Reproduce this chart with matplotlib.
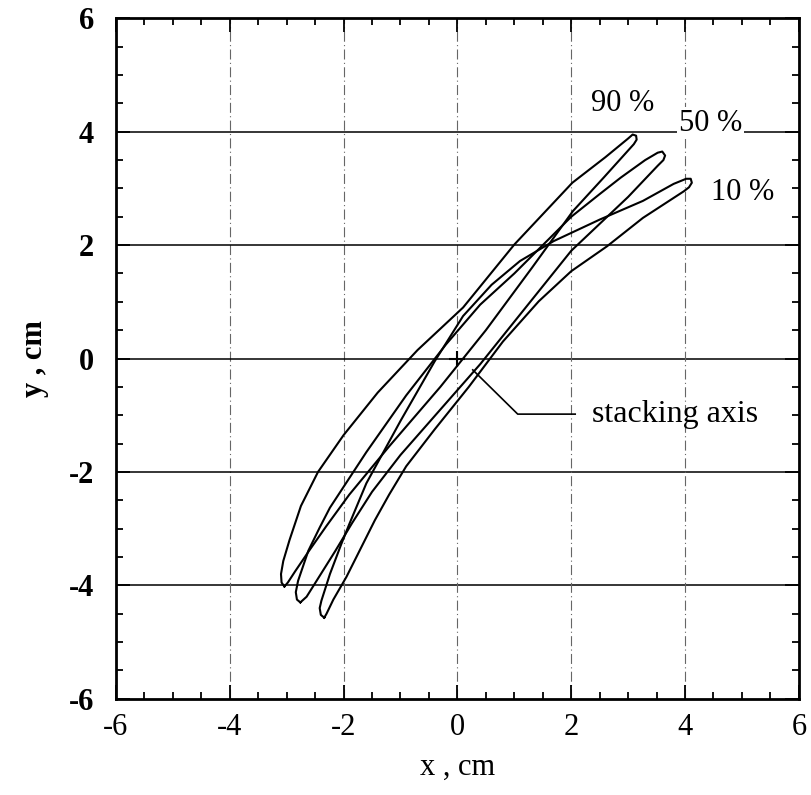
import matplotlib.pyplot as plt
from matplotlib.ticker import MultipleLocator

plt.rcParams['axes.unicode_minus'] = False

# Section outlines (cm). Each loop goes up the
# upper-left edge from the bottom tip, round the top tip, and back down.
x90 = [-3.04, -3.09, -3.1, -3.06, -2.95, -2.75, -2.45, -2.0, -1.4, -0.7, 0.1, 1.0, 2.02, 2.6, 3.0, 3.08, 3.14, 3.15,
       3.1, 2.57, 2.03, 1.31, 0.5, -0.3, -1.2, -1.9, -2.3, -2.6, -2.85, -2.98, -3.04]
y90 = [-4.02, -3.95, -3.8, -3.57, -3.2, -2.6, -2.0, -1.35, -0.6, 0.15, 0.9, 2.01, 3.1, 3.55, 3.88, 3.95, 3.93, 3.86,
       3.78, 3.19, 2.6, 1.6, 0.5, -0.5, -1.55, -2.4, -2.95, -3.38, -3.75, -3.95, -4.02]

x50 = [-2.76, -2.82, -2.84, -2.8, -2.62, -2.42, -2.24, -1.6, -0.9, -0.2, 0.4, 1.0, 1.45, 2.0, 2.5, 2.87, 3.3, 3.52, 3.6, 3.65, 3.62,
       3.52, 3.0, 2.0, 1.2, 0.4, -0.3, -1.0, -1.5, -1.85, -2.15, -2.45, -2.65, -2.76]
y50 = [-4.3, -4.25, -4.12, -3.92, -3.39, -2.98, -2.63, -1.65, -0.65, 0.25, 0.95, 1.5, 1.95, 2.5, 2.9, 3.19, 3.5, 3.63, 3.65, 3.58, 3.5,
       3.4, 2.85, 1.9, 0.9, -0.1, -0.9, -1.7, -2.35, -2.9, -3.4, -3.88, -4.2, -4.3]

x10 = [-2.34, -2.4, -2.42, -2.39, -2.24, -2.04, -1.9, -1.6, -1.0, -0.4, 0.1, 0.6, 1.1, 1.69, 2.5, 3.26, 3.8, 4.02, 4.1, 4.12, 4.07,
       3.98, 3.26, 2.63, 2.0, 1.43, 0.8, 0.2, -0.4, -0.9, -1.2, -1.45, -1.7, -1.95, -2.18, -2.3, -2.34]
y10 = [-4.57, -4.52, -4.4, -4.27, -3.8, -3.27, -2.92, -2.2, -1.1, -0.05, 0.75, 1.3, 1.72, 2.07, 2.45, 2.78, 3.08, 3.17, 3.17, 3.1, 3.02,
       2.95, 2.48, 1.98, 1.54, 1.01, 0.3, -0.5, -1.25, -1.9, -2.4, -2.85, -3.35, -3.85, -4.25, -4.5, -4.57]

section_labels = ['90 %', '50 %', '10 %']
label_x = [2.91, 4.45, 5.02]
label_y = [4.5, 4.15, 2.93]

ticks = [-6, -4, -2, 0, 2, 4, 6]

fig = plt.figure(figsize=(8.11, 7.95), dpi=100)
ax = fig.add_axes([0.143, 0.121, 0.842, 0.856])

# grid: solid horizontal lines, broken vertical ones
for t in ticks[1:-1]:
    ax.axhline(t, color='black', lw=1.1, zorder=1)
    ax.axvline(t, color='0.4', lw=0.8, linestyle=(0, (9, 3, 1, 3)), zorder=1)

for xs, ys in [(x90, y90), (x50, y50), (x10, y10)]:
    ax.plot(xs, ys, color='black', lw=1.5, zorder=3)

# stacking axis marker and its leader
ax.plot([0], [0], marker='+', color='black', markersize=11, mew=1.5, zorder=4)
ax.plot([0.27, 1.06, 2.07], [-0.2, -0.98, -0.98], color='black', lw=1.2, zorder=4)
ax.text(2.36, -0.98, 'stacking axis', fontsize=23, family='Liberation Serif',
        ha='left', va='center', zorder=5)

for lab, lx, ly in zip(section_labels, label_x, label_y):
    ax.text(lx, ly, lab, fontsize=22, family='Liberation Serif', ha='center', va='center',
            bbox=dict(facecolor='white', edgecolor='none', pad=1), zorder=5)

ax.set_xlim(-6, 6)
ax.set_ylim(-6, 6)
ax.set_xticks(ticks)
ax.set_yticks(ticks)
ax.xaxis.set_minor_locator(MultipleLocator(0.5))
ax.yaxis.set_minor_locator(MultipleLocator(0.5))
ax.tick_params(which='both', direction='in', top=True, right=True, width=1.3)
ax.tick_params(which='major', length=10)
ax.tick_params(which='minor', length=5)
ax.tick_params(axis='x', labelsize=22, pad=10)
ax.tick_params(axis='y', labelsize=22, pad=16)
for lab in ax.get_xticklabels():
    lab.set_family('Liberation Serif')
for lab in ax.get_yticklabels():
    lab.set_family('Liberation Serif')
    lab.set_fontweight('bold')
for sp in ax.spines.values():
    sp.set_linewidth(2)

ax.set_xlabel('x , cm', fontsize=22, family='Liberation Serif', labelpad=8)
ax.set_ylabel('y , cm', fontsize=22, family='Liberation Serif', fontweight='bold', labelpad=14)

plt.savefig('out.png', dpi=100)
